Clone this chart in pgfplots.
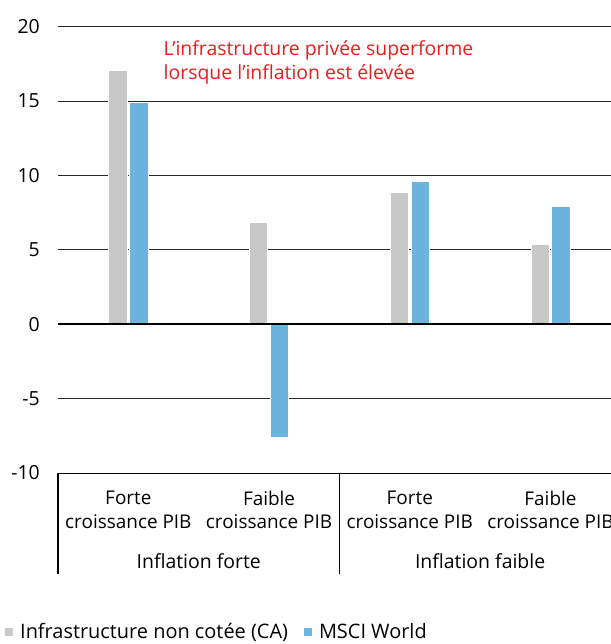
\documentclass[border=0pt]{standalone}
\usepackage{pgfplots}
\pgfplotsset{compat=1.18}
\usepackage{fontspec}
\setmainfont{Open Sans}
\definecolor{cgrey}{RGB}{200,200,200}
\definecolor{cblue}{RGB}{108,180,222}
\definecolor{cred}{RGB}{230,30,30}
\begin{document}
\begin{tikzpicture}
\begin{axis}[
  at={(58bp,171bp)}, anchor=south west,
  scale only axis, width=553bp, height=446.3bp,
  xmin=-0.5, xmax=3.43, ymin=-10, ymax=20,
  ytick={-10,-5,0,5,10,15,20},
  xtick={0,1,2,3},
  xticklabels={{Forte\\croissance PIB},{Faible\\croissance PIB},{Forte\\croissance PIB},{Faible\\croissance PIB}},
  xticklabel style={align=center, anchor=north, inner sep=0pt, yshift=-18bp, font=\fontsize{19}{23.5}\selectfont},
  yticklabel style={font=\fontsize{19.5}{22}\selectfont, inner sep=0pt, xshift=-18bp, anchor=east},
  /pgf/number format/assume math mode=true,
  major tick length=0pt,
  axis line style={draw=none},
  ymajorgrids, grid style={black!85, line width=0.7bp},
  clip=false,
  legend style={at={(axis description cs:0,0)}, anchor=north west, xshift=-53bp, yshift=-148bp,
    draw=none, fill=none, inner sep=0pt, font=\fontsize{20}{24}\selectfont,
    legend columns=2,
    /tikz/every odd column/.append style={column sep=5bp},
    /tikz/every even column/.append style={column sep=14bp},
    legend cell align=left},
  legend image code/.code={\fill[#1,draw=none] (0bp,-4bp) rectangle (8bp,4bp);},
]
\addplot[ybar, bar width=0.13, bar shift=-0.074, fill=cgrey, draw=white, line width=0.8bp]
  coordinates {(0,17.06) (1,6.86) (2,8.88) (3,5.38)};
\addlegendentry{Infrastructure non cotée (CA)}
\addplot[ybar, bar width=0.13, bar shift=0.074, fill=cblue, draw=white, line width=0.8bp]
  coordinates {(0,14.88) (1,-7.58) (2,9.6) (3,7.94)};
\addlegendentry{MSCI World}
\draw[black, line width=1.8bp] (axis cs:-0.5,0) -- (axis cs:3.43,0);
\draw[black, line width=1bp] (axis cs:-0.5,-10) -- (axis cs:3.43,-10);
\draw[black, line width=1.6bp] (axis cs:-0.5,-10) -- (axis cs:-0.5,-16.8);
\draw[black, line width=1.6bp] (axis cs:1.5,-10) -- (axis cs:1.5,-16.8);
\node[anchor=base, font=\fontsize{19.5}{22}\selectfont] at (axis cs:0.5,-16.39) {Inflation forte};
\node[anchor=base, font=\fontsize{19.5}{22}\selectfont] at (axis cs:2.5,-16.39) {Inflation faible};
\node[anchor=north west, align=left, inner sep=0pt, text=cred, font=\fontsize{19.5}{24}\selectfont] at (axis cs:0.25,19.1) {L’infrastructure privée superforme\\lorsque l’inflation est élevée};
\end{axis}
\pgfresetboundingbox
\path[use as bounding box] (0,0) rectangle (611bp,644bp);
\end{tikzpicture}
\end{document}
